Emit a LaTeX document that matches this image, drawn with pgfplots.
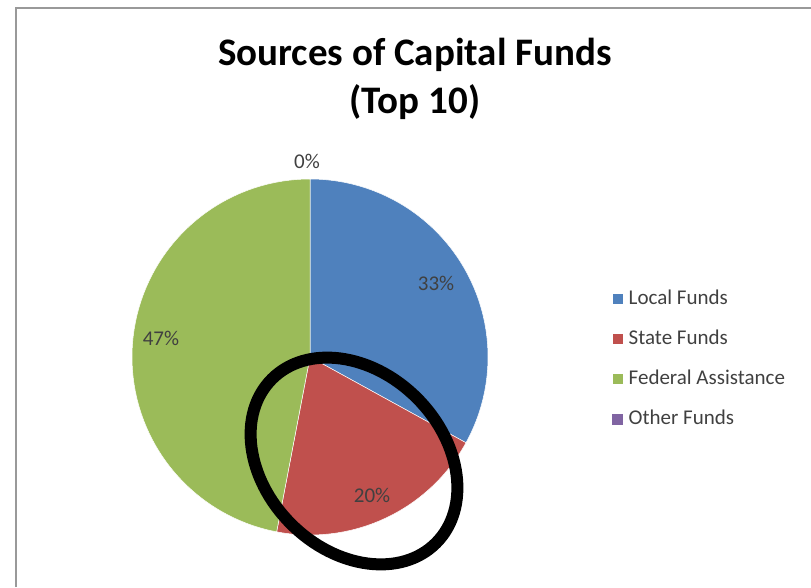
\documentclass[border=0pt]{standalone}
\usepackage{fontspec}
\setmainfont{Carlito}
\usepackage{pgfplots}
\usepackage{pgfplotstable}
\pgfplotsset{compat=1.18}

\definecolor{localc}{HTML}{4F81BD}
\definecolor{statec}{HTML}{C0504D}
\definecolor{fedc}{HTML}{9BBB59}
\definecolor{otherc}{HTML}{8064A2}
\definecolor{txt}{HTML}{404040}

% share of each source, in percent
\pgfplotstableread{
source  pct
Local   33
State   20
Federal 47
Other   0
}\funds

\begin{document}
\begin{tikzpicture}
\pgfplotstablegetelem{0}{pct}\of\funds \let\pA\pgfplotsretval
\pgfplotstablegetelem{1}{pct}\of\funds \let\pB\pgfplotsretval
\pgfplotstablegetelem{2}{pct}\of\funds \let\pC\pgfplotsretval
% wedges run clockwise from 12 o'clock
\pgfmathsetmacro\aA{90}
\pgfmathsetmacro\aB{\aA-3.6*\pA}
\pgfmathsetmacro\aC{\aB-3.6*\pB}
\pgfmathsetmacro\aD{\aC-3.6*\pC}
\def\R{178}
\begin{axis}[
    x=1pt, y=1pt,
    scale only axis,
    xmin=-310, xmax=501,
    ymin=-230, ymax=357,
    hide axis,
    legend cell align=left,
    legend image code/.code={\fill[#1] (0pt,-5.5pt) rectangle (11pt,5.5pt);},
    legend style={at={(axis cs:302,68)}, anchor=north west, draw=none, fill=none,
        inner sep=0pt, font=\fontsize{21}{21}\selectfont\color{txt},
        row sep=20pt, nodes={inner sep=0pt, text height=15pt, text depth=5pt},
        /tikz/every odd column/.append style={column sep=5pt}},
]
\addplot[fill=localc, draw=white, line width=0.5pt, data cs=polar,
    domain=\aB:\aA, samples=90] (x,\R) -- (axis cs:0,0) -- cycle;
\addlegendentry{Local Funds}
\addplot[fill=statec, draw=white, line width=0.5pt, data cs=polar,
    domain=\aC:\aB, samples=60] (x,\R) -- (axis cs:0,0) -- cycle;
\addlegendentry{State Funds}
\addplot[fill=fedc, draw=white, line width=0.5pt, data cs=polar,
    domain=\aD:\aC, samples=120] (x,\R) -- (axis cs:0,0) -- cycle;
\addlegendentry{Federal Assistance}
\addlegendimage{draw=none, fill=otherc}
\addlegendentry{Other Funds}

% data labels
\begin{scope}[every node/.style={font=\fontsize{21}{21}\selectfont, text=txt}]
\node at (axis cs:126,74) {33\%};
\node at (axis cs:62,-138) {20\%};
\node at (axis cs:-149,19) {47\%};
\node at (axis cs:-3,196) {0\%};
\end{scope}

% title
\node[font=\bfseries\fontsize{39}{48}\selectfont, align=center, anchor=north]
    at (axis cs:105,322) {Sources of Capital Funds\\(Top 10)};

% chart frame (cut off at right and bottom)
\draw[gray!80, line width=2pt] (axis cs:-294,-230) -- (axis cs:-294,349) -- (axis cs:501,349);

% hand-drawn highlight ring
\draw[black, line width=12pt, rotate around={-45:(axis cs:44,-104)}]
    (axis cs:44,-104) ellipse [x radius=116, y radius=89];
\end{axis}
\pgfresetboundingbox
\path[use as bounding box] (current axis.south west) rectangle (current axis.north east);
\end{tikzpicture}
\end{document}
